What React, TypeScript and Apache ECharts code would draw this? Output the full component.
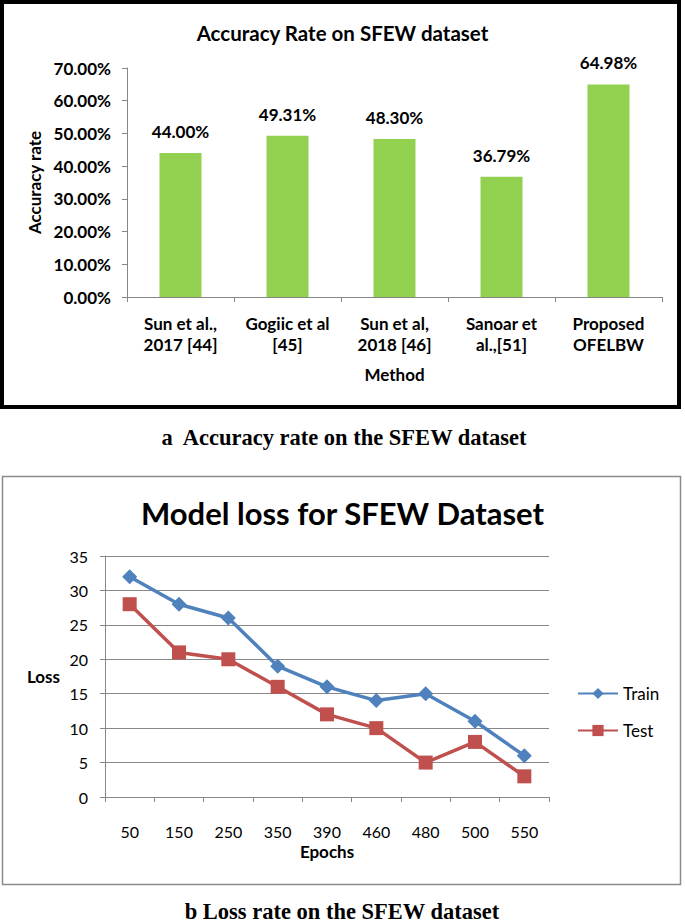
import React, { useEffect, useRef } from "react";
import * as echarts from "echarts";

const methods = [
  "Sun et al.,\n2017 [44]",
  "Gogiic et al\n[45]",
  "Sun et al,\n2018 [46]",
  "Sanoar et\nal.,[51]",
  "Proposed\nOFELBW",
];
const accuracy = [44.0, 49.31, 48.3, 36.79, 64.98];
const accuracyTicks = { min: 0, max: 70, interval: 10 };

const epochs = ["50", "150", "250", "350", "390", "460", "480", "500", "550"];
const trainLoss = [32, 28, 26, 19, 16, 14, 15, 11, 6];
const testLoss = [28, 21, 20, 16, 12, 10, 5, 8, 3];
const lossTicks = { min: 0, max: 35, interval: 5 };

const FONT = "Lato";
const SERIF = "Liberation Serif";
const AXIS_GRAY = "#878787";

export default function App() {
  const ref = useRef<HTMLDivElement>(null);

  useEffect(() => {
    if (!ref.current) return;
    const chart = echarts.init(ref.current, undefined, { renderer: "svg" });
    chart.setOption({
      animation: false,
      backgroundColor: "#ffffff",
      textStyle: { fontFamily: FONT },
      title: [
        {
          text: "Accuracy Rate on SFEW dataset",
          left: "center",
          top: 17,
          textStyle: { fontFamily: FONT, fontWeight: "bold", fontSize: 20.5, color: "#000" },
        },
        {
          text: "Model loss for SFEW Dataset",
          left: "center",
          top: 492,
          textStyle: { fontFamily: FONT, fontWeight: "bold", fontSize: 31, color: "#000" },
        },
      ],
      legend: {
        data: ["Train", "Test"],
        orient: "vertical",
        left: 577,
        top: 685,
        padding: 0,
        itemWidth: 40,
        itemHeight: 14,
        itemGap: 20,
        textStyle: { fontFamily: FONT, fontSize: 17, color: "#000" },
      },
      grid: [
        { left: 127, right: 23, top: 68, height: 229, containLabel: false },
        { left: 105, right: 136, top: 556, height: 241, containLabel: false },
      ],
      xAxis: [
        {
          type: "category",
          gridIndex: 0,
          data: methods,
          name: "Method",
          nameLocation: "middle",
          nameGap: 69,
          nameTextStyle: { fontFamily: FONT, fontWeight: "bold", fontSize: 17, color: "#000" },
          axisLine: { lineStyle: { color: AXIS_GRAY, width: 1 } },
          axisTick: { show: true, length: 5, lineStyle: { color: AXIS_GRAY } },
          axisLabel: {
            interval: 0,
            margin: 16,
            fontFamily: FONT,
            fontWeight: "bold",
            fontSize: 17,
            lineHeight: 21,
            color: "#000",
          },
        },
        {
          type: "category",
          gridIndex: 1,
          data: epochs,
          name: "Epochs",
          nameLocation: "middle",
          nameGap: 46,
          nameTextStyle: { fontFamily: FONT, fontWeight: "bold", fontSize: 17, color: "#000" },
          axisLine: { lineStyle: { color: AXIS_GRAY, width: 1 } },
          axisTick: { show: true, length: 5, lineStyle: { color: AXIS_GRAY } },
          axisLabel: {
            interval: 0,
            margin: 26,
            fontFamily: FONT,
            fontSize: 16,
            color: "#000",
          },
        },
      ],
      yAxis: [
        {
          type: "value",
          gridIndex: 0,
          min: accuracyTicks.min,
          max: accuracyTicks.max,
          interval: accuracyTicks.interval,
          name: "Accuracy rate",
          nameLocation: "middle",
          nameGap: 80,
          nameTextStyle: { fontFamily: FONT, fontWeight: "bold", fontSize: 17, color: "#000" },
          axisLine: { show: true, lineStyle: { color: AXIS_GRAY, width: 1 } },
          axisTick: { show: true, length: 5, lineStyle: { color: AXIS_GRAY } },
          splitLine: { show: false },
          axisLabel: {
            margin: 16,
            fontFamily: FONT,
            fontWeight: "bold",
            fontSize: 17,
            color: "#000",
            formatter: (v: number) => v.toFixed(2) + "%",
          },
        },
        {
          type: "value",
          gridIndex: 1,
          min: lossTicks.min,
          max: lossTicks.max,
          interval: lossTicks.interval,
          name: "Loss",
          nameLocation: "middle",
          nameRotate: 0,
          nameGap: 45,
          nameTextStyle: { fontFamily: FONT, fontWeight: "bold", fontSize: 17, color: "#000" },
          axisLine: { show: true, lineStyle: { color: AXIS_GRAY, width: 1 } },
          axisTick: { show: true, length: 5, lineStyle: { color: AXIS_GRAY } },
          splitLine: { show: true, lineStyle: { color: AXIS_GRAY, width: 1 } },
          axisLabel: {
            margin: 17,
            fontFamily: FONT,
            fontSize: 16,
            color: "#000",
          },
        },
      ],
      series: [
        {
          type: "bar",
          xAxisIndex: 0,
          yAxisIndex: 0,
          data: accuracy,
          barWidth: 42,
          itemStyle: { color: "#92D050" },
          label: {
            show: true,
            position: "top",
            distance: 13,
            fontFamily: FONT,
            fontWeight: "bold",
            fontSize: 17,
            color: "#000",
            formatter: (p: any) => Number(p.value).toFixed(2) + "%",
          },
        },
        {
          name: "Train",
          type: "line",
          xAxisIndex: 1,
          yAxisIndex: 1,
          data: trainLoss,
          symbol: "diamond",
          symbolSize: 15,
          lineStyle: { color: "#4F81BD", width: 3.5 },
          itemStyle: { color: "#4F81BD" },
        },
        {
          name: "Test",
          type: "line",
          xAxisIndex: 1,
          yAxisIndex: 1,
          data: testLoss,
          symbol: "rect",
          symbolSize: 14,
          lineStyle: { color: "#C0504D", width: 3.5 },
          itemStyle: { color: "#C0504D" },
        },
      ],
      graphic: [
        {
          type: "rect",
          shape: { x: 2, y: 2, width: 677, height: 405 },
          style: { fill: "none", stroke: "#000", lineWidth: 4 },
          silent: true,
        },
        {
          type: "rect",
          shape: { x: 2.5, y: 476.5, width: 678, height: 408 },
          style: { fill: "none", stroke: "#8c8c8c", lineWidth: 1.5 },
          silent: true,
        },
        {
          type: "text",
          x: 344,
          y: 437,
          style: {
            text: "a  Accuracy rate on the SFEW dataset",
            font: `bold 22.5px "${SERIF}"`,
            fill: "#000",
            textAlign: "center",
            textVerticalAlign: "middle",
          },
        },
        {
          type: "text",
          x: 342,
          y: 911,
          style: {
            text: "b Loss rate on the SFEW dataset",
            font: `bold 22.5px "${SERIF}"`,
            fill: "#000",
            textAlign: "center",
            textVerticalAlign: "middle",
          },
        },
      ],
    });
    return () => chart.dispose();
  }, []);

  return (
    <div
      ref={ref}
      style={{ position: "absolute", left: 0, top: 0, width: 685, height: 922, background: "#fff" }}
    />
  );
}
